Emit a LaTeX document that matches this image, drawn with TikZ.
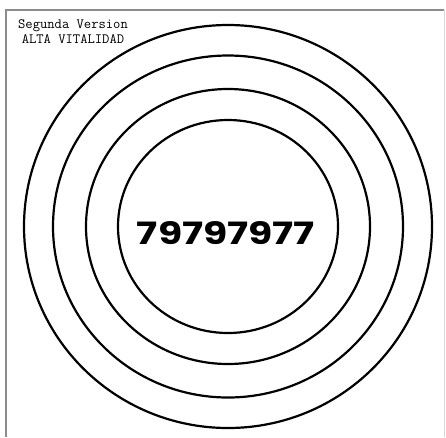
\documentclass[tikz,border=0pt]{standalone}
\usepackage{fontspec}
\newfontfamily\numfont{Poppins}
\begin{document}
\begin{tikzpicture}[x=1pt,y=-1pt,
  ring/.style={draw=black,line width=2.2pt},
  frameline/.style={draw=black!45,line width=1.2pt}]
\useasboundingbox (0,0) rectangle (446,437);
\fill[white] (0,0) rectangle (446,437);
\coordinate (fbl) at (6,437);
\coordinate (ftl) at (6,10);
\coordinate (ftr) at (444,10);
\coordinate (fbr) at (444,437);
\draw[frameline] (fbl) -- (ftl) -- (ftr);
\draw[draw=black!15,line width=0.8pt] (ftr) -- (fbr);
\coordinate (c) at (228,226.5);
\draw[ring] (c) ellipse [x radius=204pt, y radius=201.5pt];
\draw[ring] (c) ellipse [x radius=175pt, y radius=171pt];
\draw[ring] (c) ellipse [x radius=142pt, y radius=137.5pt];
\draw[ring] (c) ellipse [x radius=110pt, y radius=106.5pt];
\node[font=\ttfamily\fontsize{14.2}{15}\selectfont,align=center,inner sep=0pt] (title) at (73,32) {Segunda Version\\ALTA VITALIDAD};
\node[inner sep=0pt] (num) at (226,233.5) {\resizebox{178pt}{23pt}{\numfont\bfseries 79797977}};
\end{tikzpicture}
\end{document}
